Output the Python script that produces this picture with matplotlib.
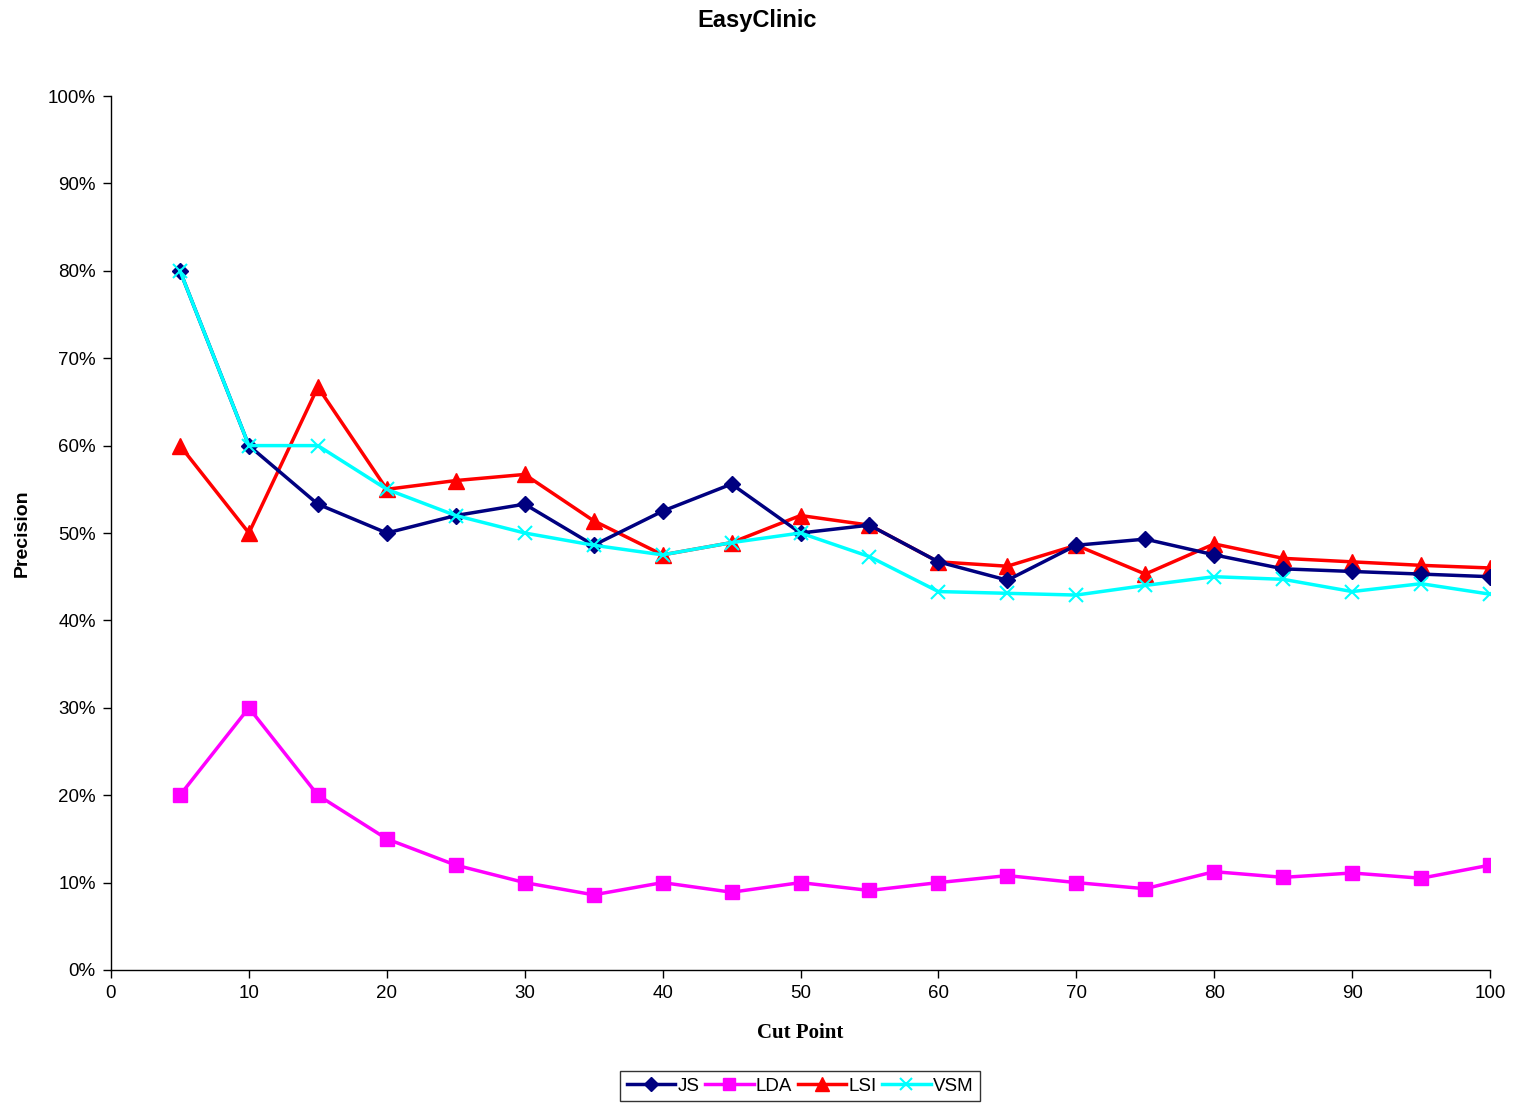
import matplotlib
matplotlib.use("Agg")
import matplotlib.pyplot as plt
from matplotlib.ticker import FuncFormatter, MultipleLocator

cut_points = [5, 10, 15, 20, 25, 30, 35, 40, 45, 50, 55, 60, 65, 70, 75, 80, 85, 90, 95, 100]
js = [80.0, 60.0, 53.3, 50.0, 52.0, 53.3, 48.6, 52.5, 55.6, 50.0, 50.9, 46.7, 44.6, 48.6, 49.3, 47.5, 45.9, 45.6, 45.3, 45.0]
lda = [20.0, 30.0, 20.0, 15.0, 12.0, 10.0, 8.6, 10.0, 8.9, 10.0, 9.1, 10.0, 10.8, 10.0, 9.3, 11.25, 10.6, 11.1, 10.5, 12.0]
lsi = [60.0, 50.0, 66.7, 55.0, 56.0, 56.7, 51.4, 47.5, 48.9, 52.0, 50.9, 46.7, 46.2, 48.6, 45.3, 48.75, 47.1, 46.7, 46.3, 46.0]
vsm = [80.0, 60.0, 60.0, 55.0, 52.0, 50.0, 48.6, 47.5, 48.9, 50.0, 47.3, 43.3, 43.1, 42.9, 44.0, 45.0, 44.7, 43.3, 44.2, 43.0]

plt.rcParams['font.family'] = ['Liberation Sans', 'DejaVu Sans']

fig = plt.figure(figsize=(15.14, 11.04), dpi=100)
ax = fig.add_axes([111/1514, 1 - 970/1104, (1490-111)/1514, (970-96)/1104])

ax.plot(cut_points, js, color='#000080', marker='D', markersize=8.5, linewidth=2.5, label='JS', zorder=5)
ax.plot(cut_points, lda, color='#FF00FF', marker='s', markersize=10, linewidth=2.5, label='LDA', zorder=3)
ax.plot(cut_points, lsi, color='#FF0000', marker='^', markersize=12, linewidth=2.5, label='LSI', zorder=4)
ax.plot(cut_points, vsm, color='#00FFFF', marker='x', markersize=10, markeredgewidth=1.5, linewidth=2.5, label='VSM', zorder=6)

ax.set_xlim(0, 100)
ax.set_ylim(0, 100)
ax.xaxis.set_major_locator(MultipleLocator(10))
ax.yaxis.set_major_locator(MultipleLocator(10))
ax.yaxis.set_major_formatter(FuncFormatter(lambda v, p: f"{int(round(v))}%"))
ax.spines['top'].set_visible(False)
ax.spines['right'].set_visible(False)
for s in ['left', 'bottom']:
    ax.spines[s].set_linewidth(1.0)
ax.tick_params(axis='both', direction='out', length=6, width=1, labelsize=13.5, pad=5)

ax.set_xlabel('Cut Point', fontsize=15, fontweight='bold', family=['Liberation Serif', 'DejaVu Serif'], labelpad=15)
ax.set_ylabel('Precision', fontsize=14, fontweight='bold', labelpad=12)
fig.text(0.5, 1 - 20/1104, 'EasyClinic', ha='center', va='center', fontsize=17, fontweight='bold')

leg = fig.legend(loc='center', bbox_to_anchor=(800/1514, 1 - 1086/1104), ncol=4, frameon=True,
                 fontsize=13.5, handlelength=2.6, handletextpad=0.1, columnspacing=0.3,
                 borderpad=0.35, fancybox=False, edgecolor='black', markerscale=0.8)
leg.get_frame().set_linewidth(1.0)

fig.savefig('out.png', dpi=100)
